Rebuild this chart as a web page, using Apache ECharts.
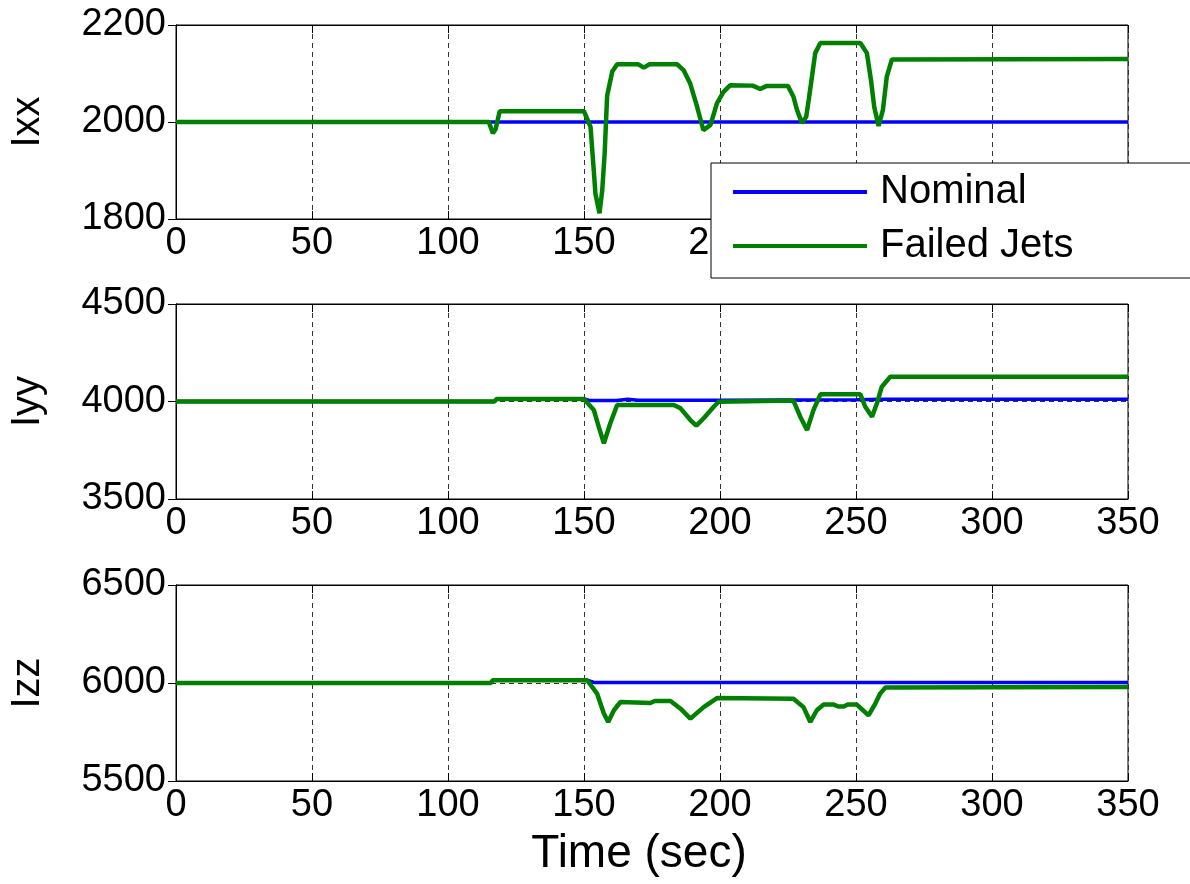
<!DOCTYPE html>
<html><head><meta charset="utf-8">
<script src="https://cdn.jsdelivr.net/npm/echarts@6/dist/echarts.min.js"></script>
<style>html,body{margin:0;padding:0;background:#fff}#c{width:1190px;height:884px}</style>
</head><body><div id="c"></div>
<script>
// ---- data ----
const tNomIxx = [0, 350];
const vNomIxx = [2000, 2000];
const tFailIxx = [0, 115, 116.5, 117.5, 119, 150, 152.4, 153.5, 154.2, 155.7, 156.7, 157.6, 158.5, 160.4, 162.2, 170, 172, 174, 184.2, 186.6, 189, 191.6, 193.9, 196.5, 198.9, 201.3, 203.8, 212, 214.8, 217, 225, 227, 228.3, 230.1, 231.7, 232.6, 233.8, 235, 236.9, 251.6, 254, 255.5, 256.7, 258.3, 259.9, 261.3, 263.2, 350];
const vFailIxx = [2000, 2000, 1977, 1985, 2022, 2022, 1990, 1907, 1852, 1812, 1859, 1936, 2054, 2104, 2119, 2119, 2112, 2119, 2119, 2107, 2080, 2031, 1983, 1994, 2039, 2062, 2076, 2075, 2068, 2074, 2074, 2052, 2025, 1998, 2011, 2045, 2093, 2142, 2163, 2163, 2142, 2087, 2031, 1992, 2025, 2093, 2129, 2130];

const tNomIyy = [0, 117, 118, 150, 152, 162, 166, 170, 200, 250, 260, 350];
const vNomIyy = [4000, 4000, 4013, 4013, 4005, 4005, 4011, 4006, 4007, 4009, 4011, 4011];
const tFailIyy = [0, 117, 118, 150, 153.6, 155.4, 157.3, 159.7, 162.2, 183, 185.5, 189.1, 191.3, 194, 197.7, 199.5, 227, 229.5, 232, 234.4, 236.9, 251.6, 253.4, 255.9, 257.7, 259.5, 262.6, 350];
const vFailIyy = [4000, 4000, 4013, 4013, 3957, 3871, 3786, 3890, 3982, 3982, 3965, 3905, 3876, 3914, 3973, 3999, 4005, 3922, 3854, 3957, 4037, 4037, 3973, 3922, 3991, 4076, 4127, 4127];

const tNomIzz = [0, 115.7, 116.5, 151.2, 154, 350];
const vNomIzz = [6000, 6000, 6014, 6014, 6002, 6002];
const tFailIzz = [0, 115.7, 116.5, 151.2, 154.8, 157.3, 158.9, 161, 163.4, 174.4, 176, 181.8, 185.5, 189.1, 194, 198.9, 227, 230.7, 233.2, 235.6, 238.1, 241.8, 243.5, 245.5, 247, 250.3, 254.6, 257.1, 258.9, 260.8, 350];
const vFailIzz = [6000, 6000, 6014, 6014, 5946, 5844, 5801, 5861, 5903, 5898, 5908, 5908, 5869, 5818, 5877, 5923, 5920, 5877, 5801, 5861, 5890, 5890, 5880, 5880, 5890, 5890, 5835, 5895, 5946, 5977, 5980];

const xTicks = [0, 50, 100, 150, 200, 250, 300, 350];
const yNames = ['Ixx', 'Iyy', 'Izz'];
const yRanges = [[1800, 2200, 200], [3500, 4500, 500], [5500, 6500, 500]];
const seriesNames = ['Nominal', 'Failed Jets'];
const xName = 'Time (sec)';

// ---- chart ----
const FONT = "'Liberation Sans', Arial, sans-serif";
const pair = (t, v) => t.map((x, i) => [x, v[i]]);
const plain = v => String(v);
const grids = [
  {left: 176, right: 62, top: 25, height: 194},
  {left: 176, right: 62, top: 304, height: 195},
  {left: 176, right: 62, top: 585, height: 196}
].map(g => Object.assign(g, {show: true, borderColor: '#000', borderWidth: 1, containLabel: false}));

const dash = {show: true, lineStyle: {color: '#333', width: 1, type: [5, 4]}};
const xAxes = [], yAxes = [];
for (let i = 0; i < 3; i++) {
  xAxes.push({
    type: 'value', gridIndex: i, min: xTicks[0], max: xTicks[xTicks.length - 1], interval: 50,
    axisLine: {show: true, lineStyle: {color: '#000'}},
    axisTick: {show: true, inside: true, length: 8, lineStyle: {color: '#000'}},
    axisLabel: {show: true, color: '#000', fontSize: 38, fontFamily: FONT, margin: 6, formatter: plain},
    splitLine: dash,
    name: i === 2 ? xName : '', nameLocation: 'middle', nameGap: 50,
    nameTextStyle: {color: '#000', fontSize: 46, fontFamily: FONT, padding: [0, 26, 0, 0]}
  });
  yAxes.push({
    type: 'value', gridIndex: i, min: yRanges[i][0], max: yRanges[i][1], interval: yRanges[i][2],
    axisLine: {show: true, lineStyle: {color: '#000'}},
    axisTick: {show: true, inside: true, length: 8, lineStyle: {color: '#000'}},
    axisLabel: {show: true, color: '#000', fontSize: 38, fontFamily: FONT, margin: 10, formatter: plain},
    splitLine: dash,
    name: yNames[i], nameLocation: 'middle', nameGap: 128, nameRotate: 90,
    nameTextStyle: {color: '#000', fontSize: 40, fontFamily: FONT}
  });
}
for (let i = 0; i < 3; i++) {
  xAxes.push({
    type: 'value', gridIndex: i, position: 'top', min: xTicks[0], max: xTicks[xTicks.length - 1], interval: 50,
    axisLine: {show: true, lineStyle: {color: '#000'}},
    axisTick: {show: true, inside: true, length: 8, lineStyle: {color: '#000'}},
    axisLabel: {show: false}, splitLine: {show: false}
  });
  yAxes.push({
    type: 'value', gridIndex: i, position: 'right', min: yRanges[i][0], max: yRanges[i][1], interval: yRanges[i][2],
    axisLine: {show: true, lineStyle: {color: '#000'}},
    axisTick: {show: true, inside: true, length: 8, lineStyle: {color: '#000'}},
    axisLabel: {show: false}, splitLine: {show: false}
  });
}

const nomData = [pair(tNomIxx, vNomIxx), pair(tNomIyy, vNomIyy), pair(tNomIzz, vNomIzz)];
const failData = [pair(tFailIxx, vFailIxx), pair(tFailIyy, vFailIyy), pair(tFailIzz, vFailIzz)];
const series = [];
for (let i = 0; i < 3; i++) {
  series.push({
    name: seriesNames[0], type: 'line', xAxisIndex: i, yAxisIndex: i, data: nomData[i],
    symbol: 'none', showSymbol: false, lineStyle: {color: '#0000ff', width: 3.5}, itemStyle: {color: '#0000ff'}, z: 2
  });
  series.push({
    name: seriesNames[1], type: 'line', xAxisIndex: i, yAxisIndex: i, data: failData[i],
    symbol: 'none', showSymbol: false, lineStyle: {color: '#008000', width: 4.5}, itemStyle: {color: '#008000'}, z: 3
  });
}

const chart = echarts.init(document.getElementById('c'), null, {renderer: 'canvas'});
chart.setOption({
  animation: false,
  backgroundColor: '#fff',
  grid: grids,
  xAxis: xAxes,
  yAxis: yAxes,
  legend: {
    data: seriesNames, orient: 'vertical', left: 711, top: 163,
    padding: [9, 140, 12, 22], itemGap: 14, itemWidth: 134, itemHeight: 4, icon: 'rect',
    backgroundColor: '#fff', borderColor: '#000', borderWidth: 1, z: 10,
    textStyle: {color: '#000', fontSize: 40, fontFamily: FONT, padding: [0, 0, 0, 8]}
  },
  series: series
});
</script></body></html>
